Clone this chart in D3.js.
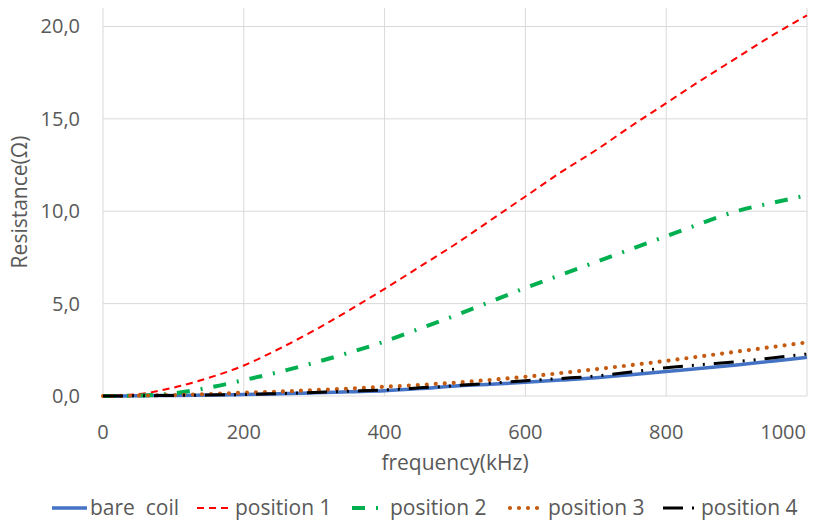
<!DOCTYPE html>
<html>
<head>
<meta charset="utf-8">
<script src="https://cdn.jsdelivr.net/npm/d3@7"></script>
<style>
  body { margin: 0; background: #fff; }
  svg { display: block; font-family: "Open Sans", "Liberation Sans", sans-serif; }
</style>
</head>
<body>
<svg id="chart" width="817" height="521"></svg>
<script>
// frequency (kHz)
const freq = [0, 50, 100, 150, 200, 250, 300, 350, 400, 450, 500, 550, 600, 650, 700, 750, 800, 850, 900, 950, 1000];

// resistance (Ohm) per series
const bareCoil  = [0, 0.01, 0.03, 0.05, 0.08, 0.12, 0.17, 0.23, 0.29, 0.4, 0.54, 0.63, 0.74, 0.86, 0.99, 1.15, 1.32, 1.5, 1.68, 1.88, 2.09];
const position1 = [0, 0.1, 0.45, 0.98, 1.65, 2.55, 3.55, 4.65, 5.8, 7.0, 8.2, 9.5, 10.8, 12.1, 13.3, 14.6, 15.85, 17.1, 18.3, 19.5, 20.6];
const position2 = [0, 0.02, 0.14, 0.45, 0.86, 1.3, 1.8, 2.35, 2.95, 3.65, 4.35, 5.1, 5.85, 6.55, 7.25, 7.95, 8.65, 9.35, 10.0, 10.45, 10.86];
const position3 = [0, 0.02, 0.05, 0.1, 0.18, 0.24, 0.32, 0.4, 0.5, 0.6, 0.72, 0.87, 1.04, 1.24, 1.45, 1.67, 1.9, 2.15, 2.4, 2.65, 2.9];
const position4 = [0, 0.01, 0.03, 0.05, 0.08, 0.13, 0.19, 0.26, 0.33, 0.44, 0.56, 0.69, 0.83, 0.95, 1.08, 1.3, 1.53, 1.7, 1.86, 2.06, 2.27];

const seriesNames = ['bare  coil', 'position 1', 'position 2', 'position 3', 'position 4'];
const xTicks = [0, 200, 400, 600, 800, 1000];
const yTicks = [0, 5, 10, 15, 20];

// Linienstile wie im Original (Excel-Farben)
const styles = [
  { color: '#4472C4', width: 3.5, dash: null, cap: 'butt' },
  { color: '#FF0000', width: 2, dash: '7 5', cap: 'butt' },
  { color: '#00B050', width: 4, dash: '13 11 2 11', cap: 'butt' },
  { color: '#C55A11', width: 4.2, dash: '0 9', cap: 'round' },
  { color: '#000000', width: 3, dash: '20 9 2 9 2 9', cap: 'butt' }
];

const seriesData = [bareCoil, position1, position2, position3, position4];

const svg = d3.select('#chart');

const x = d3.scaleLinear().domain([0, 1000]).range([103, 807]);
const y = d3.scaleLinear().domain([0, 21]).range([396, 8]);

const grid = svg.append('g');
// horizontale Gitterlinien
grid.selectAll('line.h')
  .data(yTicks)
  .enter()
  .append('line')
  .attr('x1', x(0)).attr('x2', x(1000))
  .attr('y1', d => y(d)).attr('y2', d => y(d))
  .attr('stroke', '#d9d9d9').attr('stroke-width', 1);
// vertikale Gitterlinien
grid.selectAll('line.v')
  .data(xTicks)
  .enter()
  .append('line')
  .attr('x1', d => x(d)).attr('x2', d => x(d))
  .attr('y1', y(21)).attr('y2', y(0))
  .attr('stroke', '#d9d9d9').attr('stroke-width', 1);

// Achsenbeschriftungen
const fmt = d => d3.format('.1f')(d).replace('.', ',');
svg.append('g').selectAll('text')
  .data(yTicks)
  .enter()
  .append('text')
  .attr('x', 80)
  .attr('y', d => y(d))
  .attr('dy', '0.35em')
  .attr('text-anchor', 'end')
  .attr('fill', '#595959')
  .style('font-size', '20px')
  .text(fmt);

svg.append('g').selectAll('text')
  .data(xTicks)
  .enter()
  .append('text')
  .attr('x', d => d === 1000 ? x(d) - 1 : x(d))
  .attr('y', 439)
  .attr('text-anchor', d => d === 1000 ? 'end' : 'middle')
  .attr('fill', '#595959')
  .style('font-size', '20px')
  .text(d => d);

svg.append('text')
  .attr('x', (x(0) + x(1000)) / 2)
  .attr('y', 470)
  .attr('text-anchor', 'middle')
  .attr('fill', '#595959')
  .style('font-size', '21px')
  .text('frequency(kHz)');

svg.append('text')
  .attr('transform', `translate(27,${(y(0) + y(21)) / 2}) rotate(-90)`)
  .attr('text-anchor', 'middle')
  .attr('fill', '#595959')
  .style('font-size', '21px')
  .text('Resistance(Ω)');

// Kurven
const line = d3.line()
  .x((d, i) => x(freq[i]))
  .y(d => y(d))
  .curve(d3.curveMonotoneX);

seriesData.forEach((vals, i) => {
  const s = styles[i];
  svg.append('path')
    .datum(vals)
    .attr('d', line)
    .attr('fill', 'none')
    .attr('stroke', s.color)
    .attr('stroke-width', s.width)
    .attr('stroke-linecap', s.cap)
    .attr('stroke-dasharray', s.dash);
});

// Legende
const legendX = [52, 197, 352, 510, 663];
const legend = svg.append('g');
seriesNames.forEach((name, i) => {
  const s = styles[i];
  const g = legend.append('g').attr('transform', `translate(${legendX[i]},508)`);
  g.append('line')
    .attr('x1', 0).attr('x2', 35).attr('y1', 0).attr('y2', 0)
    .attr('stroke', s.color)
    .attr('stroke-width', s.width)
    .attr('stroke-linecap', s.cap)
    .attr('stroke-dasharray', s.dash);
  g.append('text')
    .attr('x', 38)
    .attr('dy', '0.35em')
    .attr('fill', '#595959')
    .style('font-size', '21px')
    .style('white-space', 'pre')
    .text(name);
});
</script>
</body>
</html>
